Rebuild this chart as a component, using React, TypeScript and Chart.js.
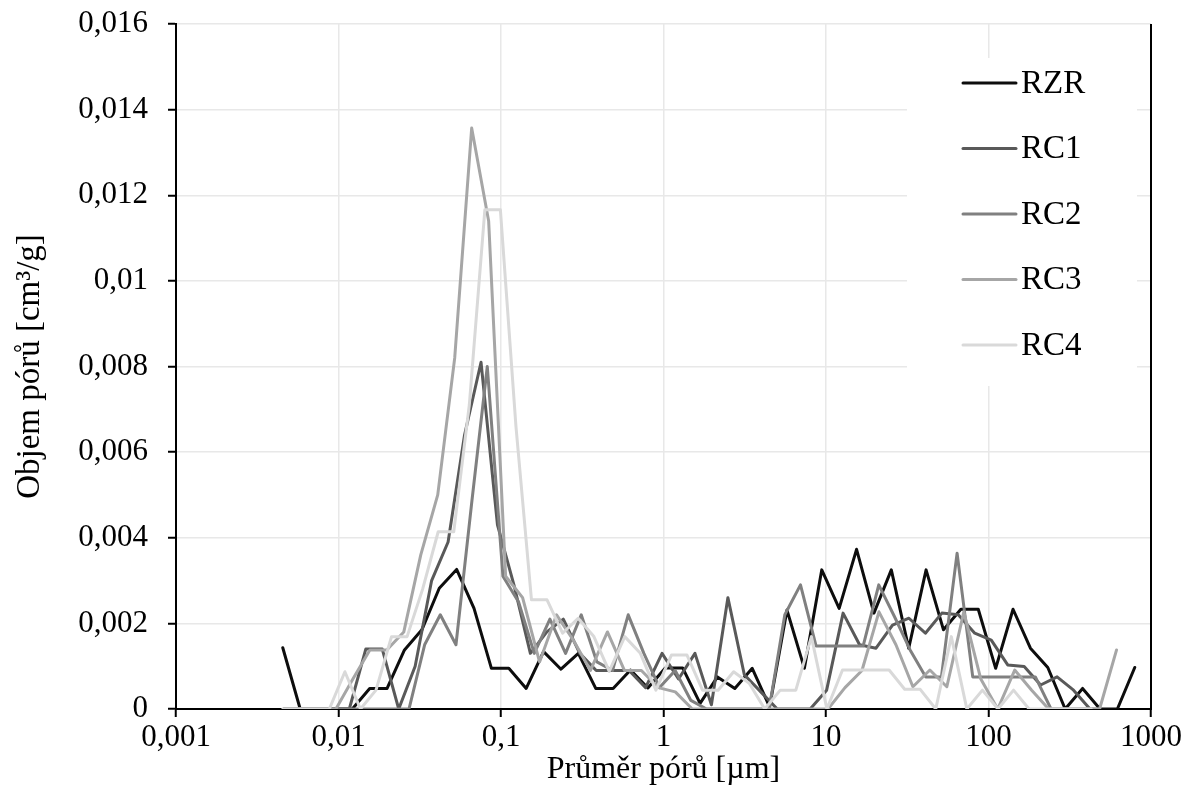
import React, { useEffect, useRef } from 'react';
import { Chart, registerables } from 'chart.js';

Chart.register(...registerables);

const seriesNames = ['RZR', 'RC1', 'RC2', 'RC3', 'RC4'];
const seriesColors = ['#0d0d0d', '#595959', '#808080', '#a6a6a6', '#d9d9d9'];

// pore diameters [µm] and pore volumes [cm3/g]
const rzrDiameters = [0.00454, 0.00581, 0.00743, 0.00951, 0.01216, 0.01556, 0.01991, 0.02547, 0.03258, 0.04169, 0.05333, 0.06823, 0.0873, 0.1117, 0.1429, 0.1828, 0.2339, 0.2992, 0.3828, 0.4898, 0.6266, 0.8017, 1.026, 1.312, 1.679, 2.148, 2.748, 3.516, 4.498, 5.754, 7.362, 9.419, 12.05, 15.42, 19.72, 25.23, 32.28, 41.3, 52.84, 67.61, 86.5, 110.7, 141.6, 181.1, 231.7, 296.5, 379.3, 485.3, 620.9, 794.3];
const rzrVolumes = [0.00143, 0, 0, 0, 0, 0.00048, 0.00048, 0.00138, 0.00185, 0.00282, 0.00326, 0.00235, 0.00095, 0.00095, 0.00048, 0.00134, 0.00093, 0.0013, 0.00048, 0.00048, 0.00091, 0.00049, 0.00096, 0.00096, 0.00013, 0.00075, 0.00048, 0.00095, 0.00005, 0.00231, 0.00095, 0.00325, 0.00235, 0.00373, 0.00224, 0.00325, 0.00142, 0.00325, 0.00185, 0.00233, 0.00233, 0.00095, 0.00233, 0.00142, 0.00097, 0, 0.00048, 0, 0, 0.00097];

const rc1Diameters = [0.00459, 0.00579, 0.00731, 0.00924, 0.01166, 0.01472, 0.01859, 0.02347, 0.02963, 0.03742, 0.04725, 0.05966, 0.07534, 0.09511, 0.1201, 0.1516, 0.1915, 0.2418, 0.3053, 0.3855, 0.4867, 0.6145, 0.776, 0.9797, 1.237, 1.562, 1.972, 2.49, 3.144, 3.97, 5.013, 6.329, 7.992, 10.09, 12.74, 16.09, 20.32, 25.66, 32.39, 40.9, 51.64, 65.2, 82.33, 104.0, 131.3, 165.8, 209.3, 264.3, 333.7, 421.3];
const rc1Volumes = [0, 0, 0, 0, 0, 0.0014, 0.0014, 0, 0.001, 0.003, 0.0039, 0.0064, 0.0081, 0.0043, 0.0029, 0.0013, 0.0018, 0.0021, 0.0013, 0.0009, 0.0009, 0.0009, 0.0005, 0.0013, 0.0007, 0.0013, 0.0001, 0.0026, 0.0008, 0.0004, 0, 0, 0, 0.00044, 0.00224, 0.0015, 0.00142, 0.00196, 0.00212, 0.00177, 0.00224, 0.0022, 0.00177, 0.00161, 0.00103, 0.00099, 0.00056, 0.00075, 0.00044, 0];

const rc2Diameters = [0.0046, 0.00574, 0.00717, 0.00895, 0.01118, 0.01396, 0.01742, 0.02175, 0.02715, 0.03389, 0.04231, 0.05283, 0.06595, 0.08234, 0.1028, 0.1283, 0.1602, 0.2, 0.2497, 0.3117, 0.3892, 0.4859, 0.6065, 0.7573, 0.9453, 1.18, 1.474, 1.84, 2.297, 2.867, 3.58, 4.469, 5.579, 6.966, 8.694, 10.86, 13.55, 16.92, 21.12, 26.37, 32.93, 41.11, 51.32, 64.08, 79.98, 99.86, 124.7, 155.6, 194.3, 242.6, 302.9, 378.1, 472.1];
const rc2Volumes = [0, 0, 0, 0, 0, 0, 0, 0, 0, 0.0015, 0.0022, 0.0015, 0.0048, 0.008, 0.0031, 0.0025, 0.0013, 0.0021, 0.0013, 0.0022, 0.0011, 0.0009, 0.0022, 0.0013, 0.0005, 0.0009, 0.0002, 0, 0, 0, 0, 0, 0.0022, 0.0029, 0.00147, 0.00147, 0.00147, 0.00147, 0.0029, 0.00216, 0.00138, 0.00075, 0.00075, 0.00364, 0.00075, 0.00075, 0.00075, 0.00075, 0.00075, 0, 0, 0, 0];

const rc3Diameters = [0.00469, 0.00596, 0.00758, 0.00964, 0.01226, 0.0156, 0.01983, 0.02523, 0.03208, 0.0408, 0.0519, 0.066, 0.08394, 0.1068, 0.1358, 0.1727, 0.2197, 0.2795, 0.3553, 0.4519, 0.5746, 0.7309, 0.9296, 1.182, 1.504, 1.912, 2.432, 3.093, 3.934, 5.004, 6.365, 8.094, 10.29, 13.09, 16.65, 21.18, 26.94, 34.26, 43.58, 55.42, 70.49, 89.67, 114.0, 145.0, 184.4, 234.6, 298.4, 379.5, 482.7, 613.8];
const rc3Volumes = [0, 0, 0, 0, 0.0007, 0.00138, 0.00138, 0.0018, 0.0036, 0.005, 0.0082, 0.01357, 0.0114, 0.0031, 0.0026, 0.0011, 0.0022, 0.0016, 0.0009, 0.0018, 0.0009, 0.0009, 0.0005, 0.0004, 0, 0, 0, 0, 0, 0, 0, 0, 0, 0.0005, 0.0009, 0.00227, 0.0015, 0.00052, 0.00091, 0.00052, 0.00227, 0.0007, 0, 0.00091, 0.00044, 0, 0, 0, 0, 0.00138];

const rc4Diameters = [0.00454, 0.00565, 0.00705, 0.00878, 0.01095, 0.01365, 0.01701, 0.0212, 0.02643, 0.03294, 0.04107, 0.05119, 0.06382, 0.07954, 0.09915, 0.1236, 0.154, 0.192, 0.2393, 0.2983, 0.3718, 0.4635, 0.5777, 0.7202, 0.8977, 1.119, 1.395, 1.739, 2.168, 2.702, 3.368, 4.198, 5.232, 6.521, 8.128, 10.13, 12.63, 15.74, 19.62, 24.46, 30.49, 38.0, 47.37, 59.04, 73.59, 91.75, 114.4, 142.6, 177.7, 221.5, 276.1, 344.2, 429.0];
const rc4Volumes = [0, 0, 0, 0, 0.00087, 0, 0.00044, 0.00169, 0.00169, 0.0028, 0.00414, 0.00414, 0.0071, 0.01166, 0.01166, 0.0066, 0.00255, 0.00255, 0.00177, 0.00212, 0.0017, 0.00088, 0.00169, 0.0013, 0.00044, 0.00126, 0.00126, 0.00044, 0.00044, 0.00087, 0.0006, 0, 0.00044, 0.00044, 0.00169, 0, 0.00091, 0.00091, 0.00091, 0.00091, 0.00046, 0.00046, 0, 0.00169, 0, 0.00044, 0, 0.00044, 0, 0, 0, 0, 0];

const xTickValues = [0.001, 0.01, 0.1, 1, 10, 100, 1000];
const yMin = 0;
const yMax = 0.016;
const yStep = 0.002;

const xTitle = 'Průměr pórů [µm]';
const yTitle = 'Objem pórů [cm³/g]';

const FONT = 'Liberation Serif, "Times New Roman", serif';

const fmt = (v: number) => String(parseFloat(Number(v).toFixed(4))).replace('.', ',');

const allDiameters = [rzrDiameters, rc1Diameters, rc2Diameters, rc3Diameters, rc4Diameters];
const allVolumes = [rzrVolumes, rc1Volumes, rc2Volumes, rc3Volumes, rc4Volumes];

const legendPlugin = {
  id: 'customLegendAndBorder',
  afterDraw(chart: any) {
    const { ctx, chartArea } = chart;
    ctx.save();
    // right border of plot area
    ctx.strokeStyle = '#000';
    ctx.lineWidth = 2;
    ctx.beginPath();
    ctx.moveTo(chartArea.right, chartArea.top);
    ctx.lineTo(chartArea.right, chartArea.bottom + 1);
    ctx.stroke();

    // legend box
    const boxLeft = chartArea.right - 244;
    const boxRight = chartArea.right - 14;
    const boxTop = chartArea.top + 34;
    const boxBottom = chartArea.top + 362;
    ctx.fillStyle = '#ffffff';
    ctx.fillRect(boxLeft, boxTop, boxRight - boxLeft, boxBottom - boxTop);

    const rowStart = chartArea.top + 59;
    const rowGap = 65.5;
    const lineX0 = chartArea.right - 188;
    const lineX1 = chartArea.right - 135;
    const textX = chartArea.right - 130;
    ctx.font = `33px ${FONT}`;
    ctx.textBaseline = 'middle';
    ctx.textAlign = 'left';
    seriesNames.forEach((name, i) => {
      const y = rowStart + i * rowGap;
      ctx.strokeStyle = seriesColors[i];
      ctx.lineWidth = 3;
      ctx.lineCap = 'round';
      ctx.beginPath();
      ctx.moveTo(lineX0, y);
      ctx.lineTo(lineX1, y);
      ctx.stroke();
      ctx.fillStyle = '#000';
      ctx.fillText(name, textX, y + 1);
    });
    ctx.restore();
  },
};

export default function App() {
  const canvasRef = useRef<HTMLCanvasElement | null>(null);

  useEffect(() => {
    const canvas = canvasRef.current;
    if (!canvas) return;
    const datasets = seriesNames.map((name, i) => ({
      label: name,
      data: allDiameters[i].map((d, j) => ({ x: d, y: allVolumes[i][j] })),
      borderColor: seriesColors[i],
      backgroundColor: seriesColors[i],
      borderWidth: 3,
      pointRadius: 0,
      tension: 0,
      fill: false,
      borderJoinStyle: 'round' as const,
      borderCapStyle: 'round' as const,
      order: seriesNames.length - i,
    }));

    const chart = new Chart(canvas, {
      type: 'line',
      data: { datasets },
      plugins: [legendPlugin],
      options: {
        responsive: false,
        animation: false,
        devicePixelRatio: 1,
        parsing: false,
        normalized: true,
        layout: { padding: { top: 24, right: 35, left: 0, bottom: 0 } },
        plugins: {
          legend: { display: false },
          tooltip: { enabled: false },
        },
        scales: {
          x: {
            type: 'logarithmic',
            min: xTickValues[0],
            max: xTickValues[xTickValues.length - 1],
            afterBuildTicks: (scale: any) => {
              scale.ticks = xTickValues.map((v) => ({ value: v }));
            },
            afterFit: (scale: any) => {
              scale.height = 78;
              scale.paddingLeft = 0;
              scale.paddingRight = 0;
            },
            ticks: {
              callback: (v: any) => fmt(v),
              font: { family: FONT, size: 31, lineHeight: 1.2 },
              color: '#000',
              padding: 2,
              autoSkip: false,
              maxRotation: 0,
              minRotation: 0,
            },
            grid: {
              color: '#e8e8e8',
              lineWidth: 1.5,
              tickColor: '#000',
              tickLength: 8,
              tickWidth: 2,
            } as any,
            border: { color: '#000', width: 2 },
            title: {
              display: true,
              text: xTitle,
              color: '#000',
              font: { family: FONT, size: 32, lineHeight: 1.1 },
              padding: { top: 0, bottom: 0 },
            },
          },
          y: {
            type: 'linear',
            min: yMin,
            max: yMax,
            afterFit: (scale: any) => {
              scale.width = 176;
              scale.paddingTop = 0;
              scale.paddingBottom = 0;
            },
            ticks: {
              stepSize: yStep,
              callback: (v: any) => fmt(v),
              font: { family: FONT, size: 31, lineHeight: 1.2 },
              color: '#000',
              padding: 20,
            },
            grid: {
              color: '#e8e8e8',
              lineWidth: 1.5,
              tickColor: '#000',
              tickLength: 8,
              tickWidth: 2,
            } as any,
            border: { color: '#000', width: 2 },
            title: {
              display: true,
              text: yTitle,
              color: '#000',
              font: { family: FONT, size: 33, lineHeight: 1.2 },
              padding: { top: 11, bottom: 0 },
            },
          },
        },
      } as any,
    });
    return () => chart.destroy();
  }, []);

  return (
    <div style={{ position: 'fixed', left: 0, top: 0, width: 1186, height: 787, background: '#fff' }}>
      <canvas ref={canvasRef} width={1186} height={787} style={{ display: 'block', width: 1186, height: 787 }} />
    </div>
  );
}
